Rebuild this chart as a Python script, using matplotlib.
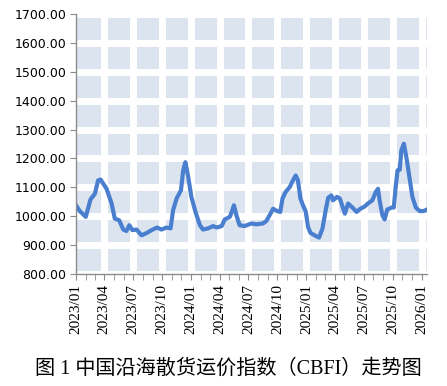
import numpy as np
import pandas as pd
import matplotlib
matplotlib.use("Agg")
import matplotlib.pyplot as plt
import matplotlib.dates as mdates

# ----------------------------
# CBFI readings
# ----------------------------
dates = [
    "2023-01-01", "2023-01-13", "2023-02-01", "2023-02-16", "2023-03-02", "2023-03-12",
    "2023-03-20", "2023-04-08", "2023-04-24", "2023-05-04", "2023-05-18", "2023-05-31",
    "2023-06-10", "2023-06-19", "2023-06-29", "2023-07-12", "2023-07-28", "2023-08-13",
    "2023-08-29", "2023-09-15", "2023-09-29", "2023-10-15", "2023-10-28", "2023-11-05",
    "2023-11-16", "2023-11-30", "2023-12-07", "2023-12-14", "2023-12-23", "2024-01-02",
    "2024-01-15", "2024-01-29", "2024-02-08", "2024-02-24", "2024-03-11", "2024-03-22",
    "2024-04-07", "2024-04-17", "2024-05-03", "2024-05-10", "2024-05-16", "2024-05-24",
    "2024-06-03", "2024-06-19", "2024-07-10", "2024-07-26", "2024-08-16", "2024-08-27",
    "2024-09-09", "2024-09-17", "2024-09-30", "2024-10-10", "2024-10-17", "2024-10-27",
    "2024-11-09", "2024-11-19", "2024-11-28", "2024-12-05", "2024-12-13", "2024-12-21",
    "2024-12-30", "2025-01-06", "2025-01-14", "2025-01-27", "2025-02-10", "2025-02-21",
    "2025-03-03", "2025-03-11", "2025-03-21", "2025-03-26", "2025-04-08", "2025-04-17",
    "2025-05-03", "2025-05-13", "2025-05-27", "2025-06-09", "2025-06-21", "2025-07-05",
    "2025-07-15", "2025-07-29", "2025-08-09", "2025-08-16", "2025-08-21", "2025-08-30",
    "2025-09-06", "2025-09-14", "2025-09-28", "2025-10-05", "2025-10-11", "2025-10-17",
    "2025-10-24", "2025-10-29", "2025-11-06", "2025-11-14", "2025-11-22", "2025-12-03",
    "2025-12-14", "2025-12-26", "2026-01-08", "2026-01-18",
]
cbfi = [
    1038, 1018, 998, 1058, 1078, 1124,
    1127, 1095, 1044, 992, 986, 954,
    949, 969, 952, 954, 934, 942,
    952, 961, 954, 961, 958, 1021,
    1061, 1090, 1159, 1187, 1136, 1067,
    1015, 969, 954, 958, 966, 961,
    966, 989, 998, 1018, 1038, 1003,
    969, 966, 975, 972, 975, 984,
    1009, 1026, 1018, 1015, 1061, 1084,
    1101, 1124, 1141, 1124, 1061, 1038,
    1015, 963, 942, 934, 926, 958,
    1021, 1064, 1072, 1055, 1067, 1061,
    1009, 1044, 1030, 1015, 1026, 1034,
    1044, 1055, 1084, 1095, 1055, 1003,
    989, 1023, 1030, 1030, 1101, 1159,
    1161, 1228, 1251, 1204, 1147, 1067,
    1030, 1018, 1018, 1023,
]
y_ticks = [800, 900, 1000, 1100, 1200, 1300, 1400, 1500, 1600, 1700]
caption = "图 1 中国沿海散货运价指数（CBFI）走势图"

x = pd.to_datetime(dates)

# ----------------------------
# Figure
# ----------------------------
fig = plt.figure(figsize=(4.47, 3.86), dpi=100)
ax = fig.add_axes([0.170, 0.290, 0.785, 0.674])
ax.set_facecolor("#dce4f0")

ax.set_ylim(800, 1700)
ax.set_xlim(pd.Timestamp("2023-01-01"), pd.Timestamp("2026-01-18"))

# thick white grid gives the tiled background
quarters = pd.date_range("2023-04-01", "2026-01-01", freq="QS")
for q in quarters:
    ax.axvline(q, color="white", lw=5, zorder=1)
for v in y_ticks:
    ax.axhline(v, color="white", lw=5, zorder=1, clip_on=True)

ax.plot(x, cbfi, color="#4a7fd0", lw=3, solid_joinstyle="round", zorder=3)

# y axis
ax.set_yticks(y_ticks)
ax.set_yticklabels([f"{v:.2f}" for v in y_ticks], fontsize=9, family="DejaVu Sans")

# x axis: monthly minor ticks, quarterly labels
ax.xaxis.set_major_locator(mdates.MonthLocator(bymonth=[1, 4, 7, 10]))
ax.xaxis.set_major_formatter(mdates.DateFormatter("%Y/%m"))
ax.xaxis.set_minor_locator(mdates.MonthLocator())
for lab in ax.get_xticklabels():
    lab.set_rotation(90)
    lab.set_fontsize(11)
    lab.set_family("Liberation Serif")

for side in ["top", "right"]:
    ax.spines[side].set_visible(False)
for side in ["left", "bottom"]:
    ax.spines[side].set_color("#8c8c8c")
    ax.spines[side].set_linewidth(1.0)
    ax.spines[side].set_zorder(4)
ax.tick_params(axis="y", length=4, color="#8c8c8c", pad=3)
ax.tick_params(axis="x", which="both", length=4, color="#8c8c8c", pad=3)

fig.text(0.51, 0.045, caption, ha="center", va="center", fontsize=14.5,
         family=["Liberation Serif", "Noto Sans CJK SC"])

fig.savefig("out.png", dpi=100)
